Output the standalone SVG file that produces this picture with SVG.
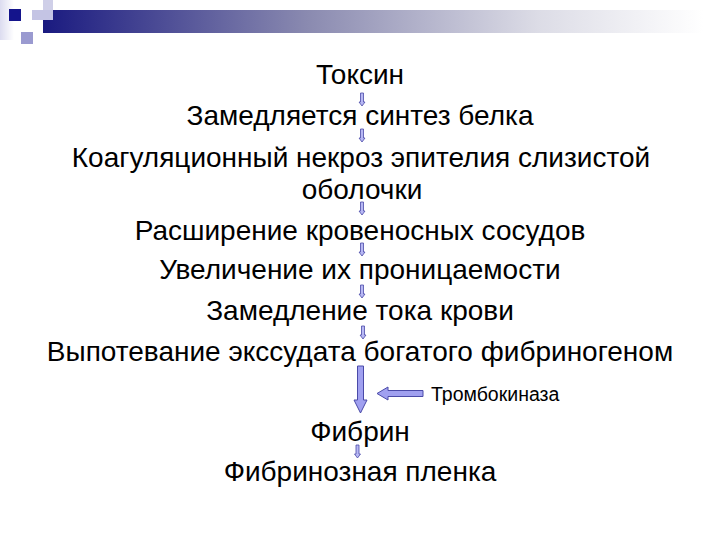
<svg xmlns="http://www.w3.org/2000/svg" xmlns:xlink="http://www.w3.org/1999/xlink" width="720" height="540" viewBox="0 0 720 540">
<style>
.t{font-family:"Liberation Sans",Arial,sans-serif;font-size:28px;fill:#000;text-anchor:middle}
.s{font-family:"Liberation Sans",Arial,sans-serif;font-size:19.5px;fill:#000}
.ar{fill:#a0a0f0;stroke:#4a4aa8;stroke-width:1}
.sar{fill:#b8b8f4;stroke:#4a4aa8;stroke-width:0.8}
</style>
<defs>
<linearGradient id="bar" x1="0" y1="0" x2="1" y2="0">
<stop offset="0" stop-color="#1a1a80"/>
<stop offset="0.4" stop-color="#8a8ab0"/>
<stop offset="0.75" stop-color="#dcdce6"/>
<stop offset="1" stop-color="#ffffff"/>
</linearGradient>
<linearGradient id="side" x1="0" y1="0" x2="1" y2="0">
<stop offset="0" stop-color="#dcdcf0"/>
<stop offset="1" stop-color="#ffffff"/>
</linearGradient>
<path id="sa" d="M-1.5,0 H1.5 V9 H3 L0,13 L-3,9 H-1.5 Z"/>
</defs>
<rect width="720" height="540" fill="#fff"/>
<g id="header">
<rect x="0" y="0" width="14" height="40" fill="url(#side)"/>
<rect x="43" y="10" width="660" height="23" fill="url(#bar)"/>
<rect x="43" y="0" width="10" height="10" fill="#cfcfe8"/>
<rect x="32" y="10" width="21" height="10" fill="#c4c4e4"/>
<rect x="21" y="32" width="12" height="12" fill="#9a9ad0"/>
<rect x="9" y="9" width="12" height="12" fill="#14148c"/>
</g>
<g id="n1"><text class="t" x="360" y="84">Токсин</text></g>
<g id="n2"><text class="t" x="360" y="125">Замедляется синтез белка</text></g>
<g id="n3"><text class="t" x="361" y="167">Коагуляционный некроз эпителия слизистой</text><text class="t" x="362" y="199">оболочки</text></g>
<g id="n4"><text class="t" x="360" y="240">Расширение кровеносных сосудов</text></g>
<g id="n5"><text class="t" x="360" y="279">Увеличение их проницаемости</text></g>
<g id="n6"><text class="t" x="360" y="320">Замедление тока крови</text></g>
<g id="n7"><text class="t" x="360" y="361">Выпотевание экссудата богатого фибриногеном</text></g>
<g id="n8"><text class="s" x="431" y="401">Тромбокиназа</text></g>
<g id="n9"><text class="t" x="360" y="441">Фибрин</text></g>
<g id="n10"><text class="t" x="360" y="481">Фибринозная пленка</text></g>
<g id="connectors">
<use xlink:href="#sa" class="sar" x="362" y="93"/>
<use xlink:href="#sa" class="sar" x="362" y="129"/>
<use xlink:href="#sa" class="sar" x="362" y="202"/>
<use xlink:href="#sa" class="sar" x="362" y="243"/>
<use xlink:href="#sa" class="sar" x="362" y="285"/>
<use xlink:href="#sa" class="sar" x="363" y="326"/>
<use xlink:href="#sa" class="sar" x="357.5" y="445"/>
<path class="ar" d="M357.5,366 H363.5 V400 H367 L360.5,413 L354,400 H357.5 Z"/>
<path class="ar" d="M423,390.5 V396.5 H388 V400 L377,393.5 L388,387 V390.5 Z"/>
</g>
</svg>
